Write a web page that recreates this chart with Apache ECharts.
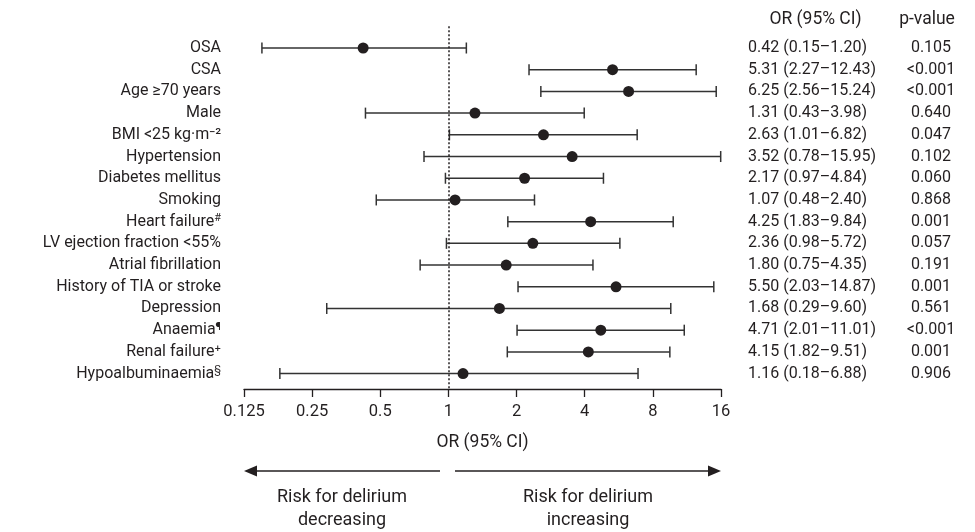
<!DOCTYPE html>
<html><head><meta charset="utf-8">
<script src="https://cdn.jsdelivr.net/npm/echarts@6/dist/echarts.min.js"></script>
<style>html,body{margin:0;padding:0;background:#fff}#c{width:975px;height:532px}</style>
</head><body><div id="c"></div>
<script>
const categories = ['OSA','CSA','Age \u226570 years','Male','BMI <25 kg\u00b7m\u207b\u00b2','Hypertension','Diabetes mellitus','Smoking','Heart failure#','LV ejection fraction <55%','Atrial fibrillation','History of TIA or stroke','Depression','Anaemia\u00b6','Renal failure\u207a','Hypoalbuminaemia\u00a7'];
const orValues = [0.42,5.31,6.25,1.31,2.63,3.52,2.17,1.07,4.25,2.36,1.80,5.50,1.68,4.71,4.15,1.16];
const ciLow = [0.15,2.27,2.56,0.43,1.01,0.78,0.97,0.48,1.83,0.98,0.75,2.03,0.29,2.01,1.82,0.18];
const ciHigh = [1.20,12.43,15.24,3.98,6.82,15.95,4.84,2.40,9.84,5.72,4.35,14.87,9.60,11.01,9.51,6.88];
const pValues = ['0.105','<0.001','<0.001','0.640','0.047','0.102','0.060','0.868','0.001','0.057','0.191','0.001','0.561','<0.001','0.001','0.906'];
const xTickLabels = ['0.125','0.25','0.5','1','2','4','8','16'];

const FONT = 'Roboto';
const TXT = '#231f20';
const orText = orValues.map((v,i)=> v.toFixed(2)+' ('+ciLow[i].toFixed(2)+'\u2013'+ciHigh[i].toFixed(2)+')');

function catLabel(s){
  const m = s.match(/^(.*?)([#\u00b6\u00a7])$/);
  if(m) return '{a|'+m[1]+'}{s|'+m[2]+'}';
  return '{a|'+s+'}';
}
function idx(v){ const r=Math.round(v); return (Math.abs(v-r)<1e-6 && r>=0 && r<categories.length) ? r : -1; }

const chart = echarts.init(document.getElementById('c'), null, {renderer:'canvas'});
const yBase = {type:'value', min:-1, max:15.71, interval:1, inverse:true,
  axisLine:{show:false}, axisTick:{show:false}, splitLine:{show:false}};
chart.setOption({
  animation:false,
  textStyle:{fontFamily:FONT},
  grid:{left:244, right:254, top:26.3, bottom:143, containLabel:false},
  xAxis:{type:'log', logBase:2, min:0.125, max:16, splitNumber:7, position:'bottom',
    axisLine:{show:true, onZero:false, lineStyle:{color:TXT, width:1.3}},
    axisTick:{show:true, length:8, lineStyle:{color:TXT, width:1.3}},
    splitLine:{show:false},
    axisLabel:{fontSize:16.5, color:TXT, fontFamily:FONT, margin:14,
      formatter:(v)=>{ const k=Math.round(Math.log2(v))+3; return xTickLabels[k]!==undefined?xTickLabels[k]:''; }},
    name:'OR (95% CI)', nameLocation:'middle', nameGap:45,
    nameTextStyle:{fontSize:17.5, color:TXT, fontFamily:FONT}
  },
  yAxis:[
    Object.assign({}, yBase, {position:'left',
      axisLabel:{margin:23, color:TXT, fontFamily:FONT, fontSize:16,
        formatter:(v)=>{const i=idx(v); return i<0?'':catLabel(categories[i]);},
        rich:{a:{fontSize:16,color:TXT,fontFamily:FONT}, s:{fontSize:11,color:TXT,fontFamily:FONT,verticalAlign:'top',padding:[0,0,6,0]}}}}),
    Object.assign({}, yBase, {position:'right',
      axisLabel:{margin:27, align:'left', color:TXT, fontFamily:FONT, fontSize:16,
        formatter:(v)=>{const i=idx(v); return i<0?'':orText[i];}}}),
    Object.assign({}, yBase, {position:'right',
      axisLabel:{margin:210, align:'center', color:TXT, fontFamily:FONT, fontSize:16,
        formatter:(v)=>{const i=idx(v); return i<0?'':pValues[i];}}})
  ],
  series:[
    {type:'custom', xAxisIndex:0, yAxisIndex:0, clip:false,
      encode:{x:[0,1], y:2},
      data: categories.map((c,i)=>[ciLow[i], ciHigh[i], i]),
      renderItem:(params, api)=>{
        const y=api.value(2);
        const p1=api.coord([api.value(0), y]);
        const p2=api.coord([api.value(1), y]);
        const st={stroke:'#333', lineWidth:1.5};
        const h=5.5;
        return {type:'group', children:[
          {type:'line', shape:{x1:p1[0],y1:p1[1],x2:p2[0],y2:p2[1]}, style:st},
          {type:'line', shape:{x1:p1[0],y1:p1[1]-h,x2:p1[0],y2:p1[1]+h}, style:st},
          {type:'line', shape:{x1:p2[0],y1:p2[1]-h,x2:p2[0],y2:p2[1]+h}, style:st}
        ]};
      },
      markLine:{silent:true, symbol:'none', label:{show:false},
        lineStyle:{color:TXT, type:[2,2], width:1.5},
        data:[{xAxis:1}]}
    },
    {type:'scatter', xAxisIndex:0, yAxisIndex:0, symbol:'circle', symbolSize:11,
      itemStyle:{color:TXT, opacity:1},
      data: orValues.map((v,i)=>[v,i])}
  ],
  graphic:[
    {type:'text', x:815.5, y:20, style:{text:'OR (95% CI)', fontSize:17.5, fontFamily:FONT, fill:TXT, textAlign:'center', textVerticalAlign:'middle'}},
    {type:'text', x:927, y:20, style:{text:'p-value', fontSize:17.5, fontFamily:FONT, fill:TXT, textAlign:'center', textVerticalAlign:'middle'}},
    {type:'line', shape:{x1:255, y1:471, x2:440, y2:471}, style:{stroke:TXT, lineWidth:1.5}},
    {type:'polygon', shape:{points:[[244,471],[257,465.5],[257,476.5]]}, style:{fill:TXT}},
    {type:'line', shape:{x1:455, y1:471, x2:710, y2:471}, style:{stroke:TXT, lineWidth:1.5}},
    {type:'polygon', shape:{points:[[721,471],[708,465.5],[708,476.5]]}, style:{fill:TXT}},
    {type:'text', x:342, y:508.5, style:{text:'Risk for delirium\ndecreasing', fontSize:18, lineHeight:23, fontFamily:FONT, fill:TXT, textAlign:'center', textVerticalAlign:'middle'}},
    {type:'text', x:588, y:508.5, style:{text:'Risk for delirium\nincreasing', fontSize:18, lineHeight:23, fontFamily:FONT, fill:TXT, textAlign:'center', textVerticalAlign:'middle'}}
  ]
});
</script></body></html>
